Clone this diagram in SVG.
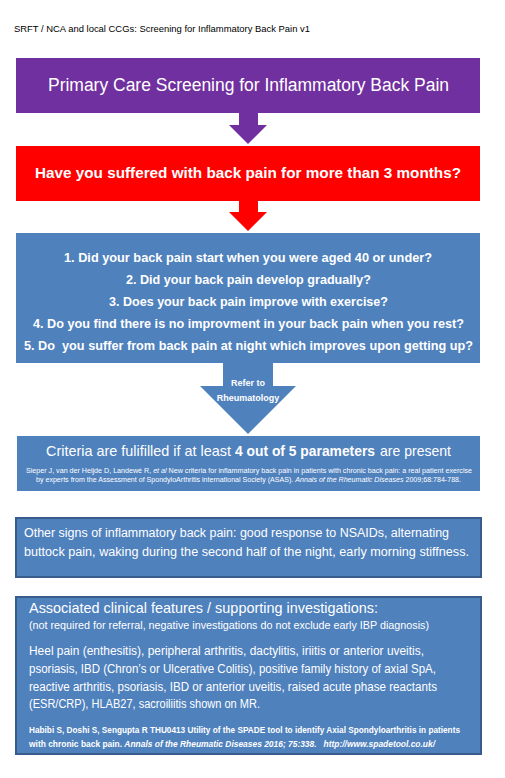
<svg xmlns="http://www.w3.org/2000/svg" width="505" height="778" viewBox="0 0 505 778">
<style>
text{font-family:"Liberation Sans",Arial,sans-serif;fill:#fff}
.hd{fill:#000;font-size:9.5px}
.c{text-anchor:middle}
.b{font-weight:bold}
.i{font-style:italic}
.pre{white-space:pre}
.blue{fill:#4F81BD}
.bord{fill:#4F81BD;stroke:#385D8A;stroke-width:2}
</style>
<rect width="505" height="778" fill="#fff"/>
<text class="hd" x="14" y="32" textLength="296" lengthAdjust="spacingAndGlyphs">SRFT / NCA and local CCGs: Screening for Inflammatory Back Pain v1</text>
<g id="connectors">
<polygon points="239,113 258,113 258,125 267,125 248,144 229,125 239,125" fill="#7030A0"/>
<polygon points="239,201 258,201 258,212 267,212 248,231 229,212 239,212" fill="#FF0000"/>
<polygon points="223,363 273,363 273,386 296,386 248,434 200,386 223,386" fill="#4F81BD"/>
<text class="c b" x="248" y="386" font-size="9">Refer to</text>
<text class="c b" x="248" y="401" font-size="9">Rheumatology</text>
</g>
<g id="title">
<rect x="16" y="58" width="464" height="55" fill="#7030A0"/>
<text x="48" y="91" font-size="18" textLength="401" lengthAdjust="spacingAndGlyphs">Primary Care Screening for Inflammatory Back Pain</text>
</g>
<g id="question">
<rect x="16" y="146" width="464" height="55" fill="#FF0000"/>
<text class="b" x="35" y="178" font-size="15" textLength="426" lengthAdjust="spacingAndGlyphs">Have you suffered with back pain for more than 3 months?</text>
</g>
<g id="questions">
<rect x="16" y="233" width="464" height="130" class="blue"/>
<text class="b" x="64" y="262" font-size="13" textLength="368" lengthAdjust="spacingAndGlyphs">1. Did your back pain start when you were aged 40 or under?</text>
<text class="b" x="126" y="284" font-size="13" textLength="245" lengthAdjust="spacingAndGlyphs">2. Did your back pain develop gradually?</text>
<text class="b" x="109" y="306" font-size="13" textLength="279" lengthAdjust="spacingAndGlyphs">3. Does your back pain improve with exercise?</text>
<text class="b" x="33" y="328" font-size="13" textLength="431" lengthAdjust="spacingAndGlyphs">4. Do you find there is no improvment in your back pain when you rest?</text>
<text class="b pre" x="24" y="350" font-size="13" textLength="449" lengthAdjust="spacingAndGlyphs">5. Do  you suffer from back pain at night which improves upon getting up?</text>
</g>
<g id="criteria">
<rect x="17" y="436" width="463" height="55" class="blue"/>
<text x="46" y="456" font-size="15" textLength="185" lengthAdjust="spacingAndGlyphs">Criteria are fulifilled if at least</text>
<text class="b" x="235" y="456" font-size="15" textLength="140" lengthAdjust="spacingAndGlyphs">4 out of 5 parameters</text>
<text x="380" y="456" font-size="15" textLength="71" lengthAdjust="spacingAndGlyphs">are present</text>
<text x="26" y="473" font-size="6.3" textLength="446" lengthAdjust="spacingAndGlyphs">Sieper J, van der Heijde D, Landewé R, <tspan class="i">et al</tspan> New criteria for inflammatory back pain in patients with chronic back pain: a real patient exercise</text>
<text x="36" y="482" font-size="6.3" textLength="425" lengthAdjust="spacingAndGlyphs">by experts from the Assessment of SpondyloArthritis international Society (ASAS). <tspan class="i">Annals of the Rheumatic Diseases</tspan> 2009;68:784-788.</text>
</g>
<g id="other-signs">
<rect x="16" y="518" width="465" height="59" class="bord"/>
<text x="24" y="537" font-size="12.5" textLength="425" lengthAdjust="spacingAndGlyphs">Other signs of inflammatory back pain: good response to NSAIDs, alternating</text>
<text x="24" y="556" font-size="12.5" textLength="445" lengthAdjust="spacingAndGlyphs">buttock pain, waking during the second half of the night, early morning stiffness.</text>
</g>
<g id="associated">
<rect x="16" y="597" width="465" height="157" class="bord"/>
<text x="29" y="613" font-size="15" textLength="349" lengthAdjust="spacingAndGlyphs">Associated clinical features / supporting investigations:</text>
<text x="29" y="629" font-size="10.5" textLength="400" lengthAdjust="spacingAndGlyphs">(not required for referral, negative investigations do not exclude early IBP diagnosis)</text>
<text x="29" y="655" font-size="12.5" textLength="395" lengthAdjust="spacingAndGlyphs">Heel pain (enthesitis), peripheral arthritis, dactylitis, iriitis or anterior uveitis,</text>
<text x="29" y="673" font-size="12.5" textLength="407" lengthAdjust="spacingAndGlyphs">psoriasis, IBD (Chron’s or Ulcerative Colitis), positive family history of axial SpA,</text>
<text x="29" y="691" font-size="12.5" textLength="408" lengthAdjust="spacingAndGlyphs">reactive arthritis, psoriasis, IBD or anterior uveitis, raised acute phase reactants</text>
<text x="29" y="708" font-size="12.5" textLength="231" lengthAdjust="spacingAndGlyphs">(ESR/CRP), HLAB27, sacroiliitis shown on MR.</text>
<text class="b" x="29" y="733" font-size="8.3" textLength="431" lengthAdjust="spacingAndGlyphs">Habibi S, Doshi S, Sengupta R THU0413 Utility of the SPADE tool to identify Axial Spondyloarthritis in patients</text>
<text class="b pre" x="29" y="747" font-size="8.3" textLength="406" lengthAdjust="spacingAndGlyphs">with chronic back pain. <tspan class="i">Annals of the Rheumatic Diseases 2016; 75:338.   http://www.spadetool.co.uk/</tspan></text>
</g>
</svg>
